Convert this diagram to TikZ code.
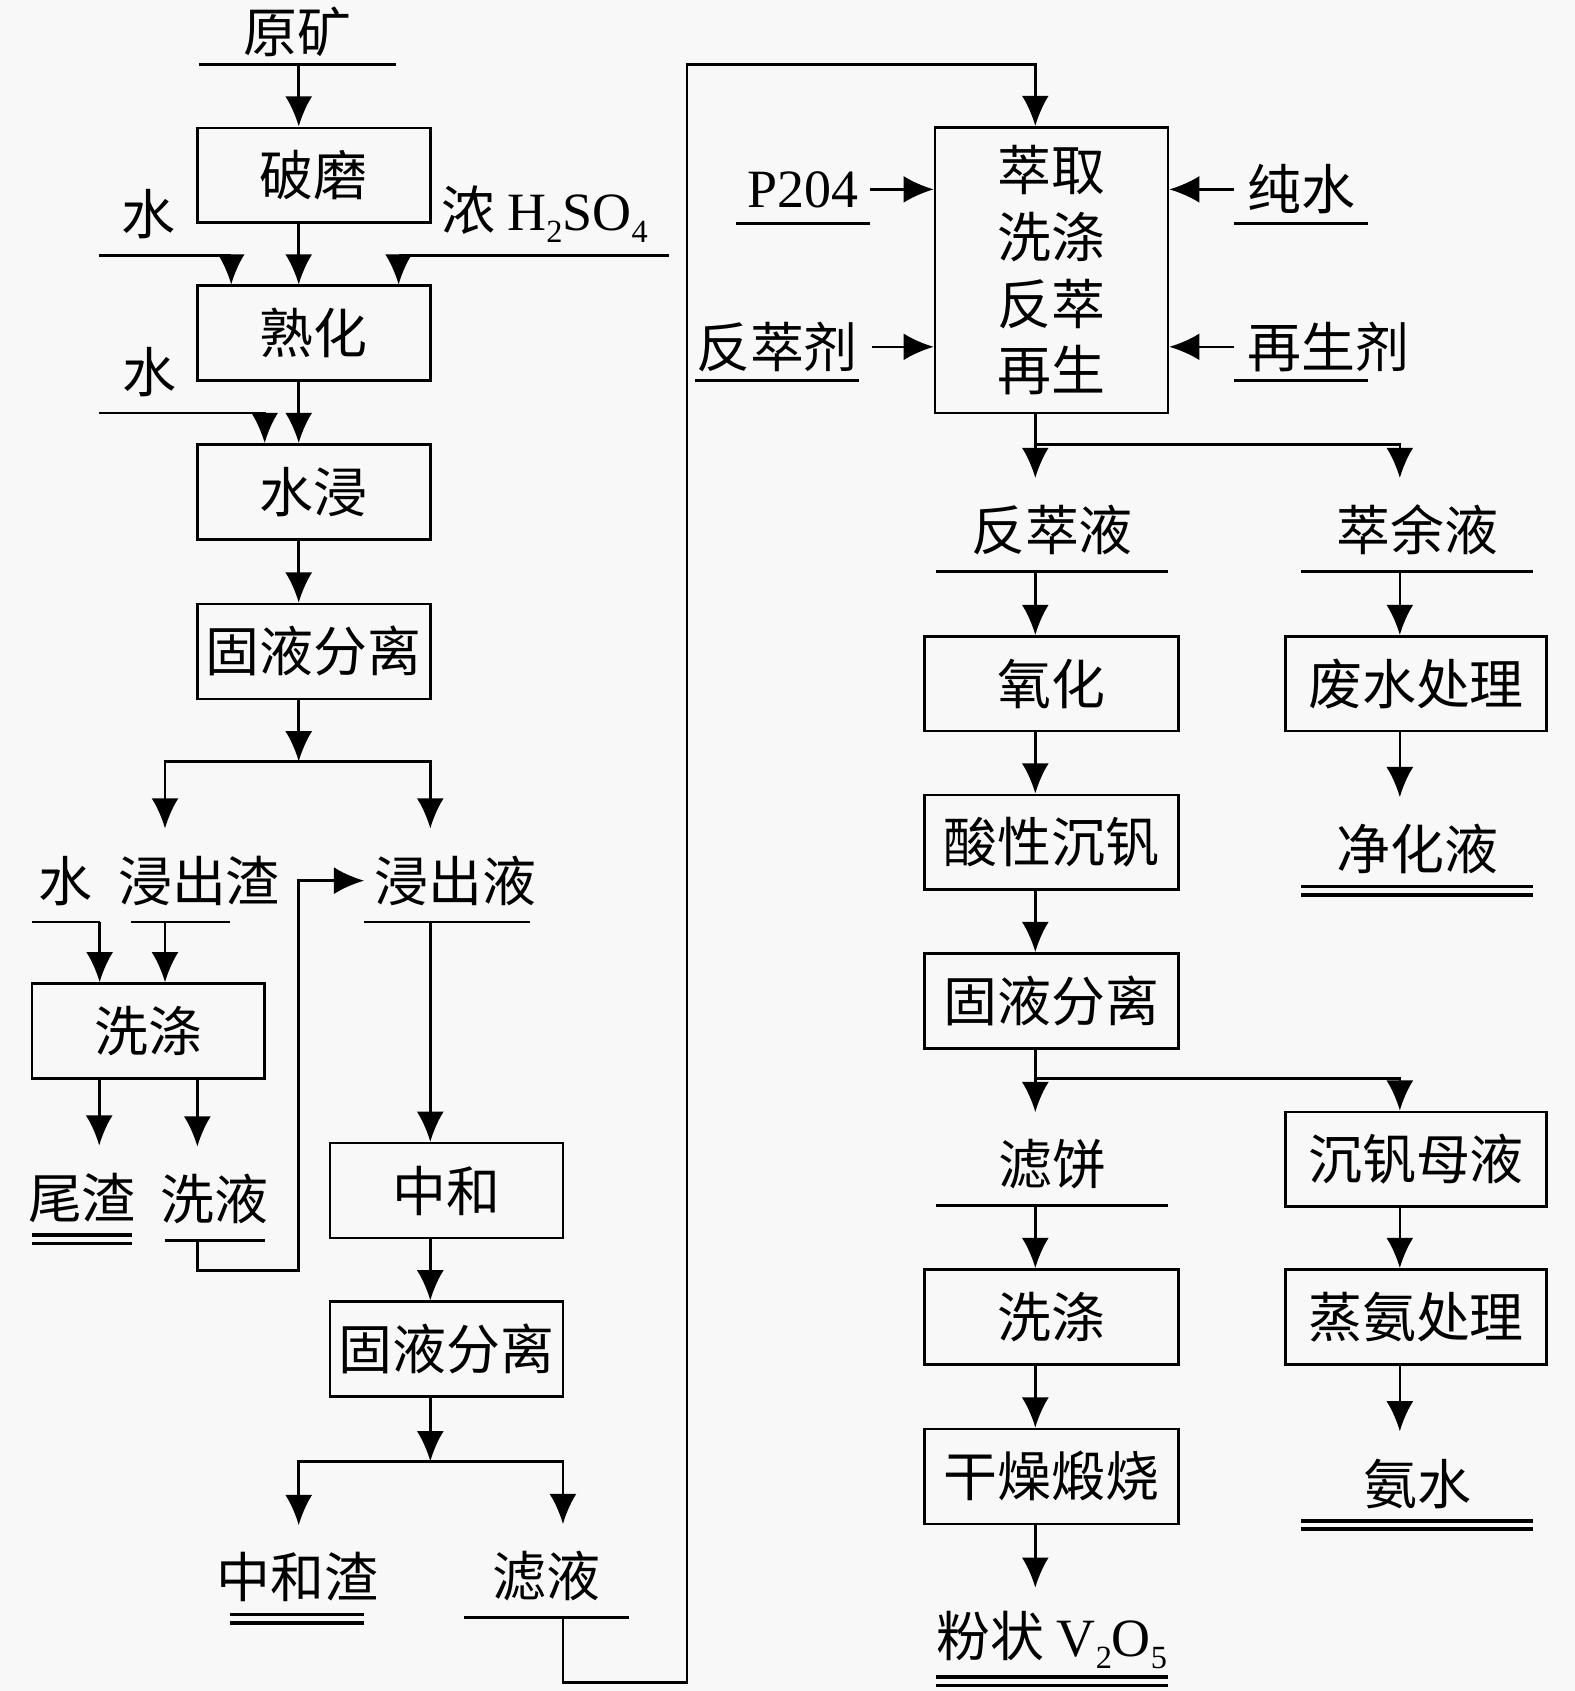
\documentclass[tikz,border=0pt]{standalone}
\usepackage{fontspec}
\setmainfont{Liberation Serif}
\newfontfamily\cjk{Noto Sans CJK SC}
\usetikzlibrary{arrows.meta,calc}
\definecolor{paper}{RGB}{248,248,248}
\newcommand{\lowidx}[1]{\raisebox{-0.22em}{\fontsize{15pt}{15pt}\selectfont #1}}

\begin{document}
\begin{tikzpicture}
  [x=0.5pt, y=-0.5pt,
   every node/.style={font=\cjk\fontsize{25pt}{31pt}\selectfont},
   box/.style={draw, line width=1.2pt, inner sep=0pt, minimum width=108pt, minimum height=44pt},
   strm/.style={inner sep=0pt, minimum height=38pt, anchor=south,
     execute at begin node={\hbox to 0pt\bgroup\hss},
     execute at end node={\hss\egroup}},
   flow/.style={line width=1.2pt, -{Latex[length=14pt,width=12.5pt]}},
   feed/.style={flow, shorten >=5pt},
   uline/.style={line width=1.2pt},
   pline/.style={line width=1.6pt, double=paper, double distance=2.2pt}]
  \fill[paper] (0,0) rectangle (1460,1568);
  \useasboundingbox (0,0) rectangle (1460,1568);
  %Spalten und Verzweigungen
  \coordinate (XA) at (92,0);
  \coordinate (XB) at (153,0);
  \coordinate (XC) at (183,0);
  \coordinate (XD) at (277,0);
  \coordinate (XE) at (399,0);
  \coordinate (XF) at (522,0);
  \coordinate (XH) at (960,0);
  \coordinate (XI) at (1298,0);
  \coordinate (J1) at (277,706);
  \coordinate (J2) at (399,1355);
  \coordinate (J3) at (960,412);
  \coordinate (J4) at (960,1000);
  \coordinate (R1) at (637,1560);
  \coordinate (R2) at (637,60);
  %Aufschluss
  \node [strm, minimum width=91pt, minimum height=30pt] (Ore) at (276,60) {原矿};
  \node [box] (Mill) at (291,162.5) {破磨};
  \node [box] (Cure) at (291,309) {熟化};
  \node [box] (Leach) at (291,456) {水浸};
  \node [box] (Sep1) at (291,604) {固液分离};
  \node [strm, minimum width=61pt] (W1) at (153,237) {水\kern15pt};
  \node [strm, minimum width=125pt] (Acid) at (495,237) {\kern10pt 浓 {\rmfamily H\lowidx{2}SO\lowidx{4}}};
  \node [strm, minimum width=76.5pt] (W2) at (168.5,383) {水\kern30pt};
  %Waesche und Neutralisation
  \node [strm, minimum width=31pt] (W3) at (61,855) {水};
  \node [strm, minimum width=45.5pt] (Slag) at (167.5,855) {\kern17pt 浸出渣};
  \node [box] (Wash1) at (137.5,956) {洗涤};
  \node [strm, minimum width=46pt] (Tail) at (76,1149) {尾渣};
  \node [strm, minimum width=46pt] (WL) at (199,1150) {洗液};
  \node [strm, minimum width=76.5pt] (LL) at (414.5,855) {\kern8pt 浸出液};
  \node [box] (Neut) at (414,1104) {中和};
  \node [box] (Sep2) at (414,1251) {固液分离};
  \node [strm, minimum width=61.5pt] (NRes) at (275.5,1501) {中和渣};
  \node [strm, minimum width=76pt] (Filt) at (507,1500) {滤液};
  %Extraktion
  \node [box, minimum height=132.5pt, align=center] (Ext) at (975,250.5) {萃取\\洗涤\\反萃\\再生};
  \node [strm, minimum width=61.5pt, minimum height=31pt] (P204) at (744.5,207) {\rmfamily P204};
  \node [strm, minimum width=75.5pt, minimum height=31pt] (RA) at (720.5,353) {反萃剂};
  \node [strm, minimum width=61.5pt, minimum height=31pt] (PW) at (1206.5,207) {纯水};
  \node [strm, minimum width=61.5pt, minimum height=31pt] (RG) at (1206.5,353) {\kern25pt 再生剂};
  \node [strm, minimum width=107.5pt] (StripL) at (975.5,530) {反萃液};
  \node [strm, minimum width=107pt] (Raff) at (1314,530) {萃余液};
  %Faellung
  \node [box, minimum width=118pt] (Ox) at (975,634) {氧化};
  \node [box, minimum width=121pt] (WW) at (1313,634) {废水处理};
  \node [box, minimum width=118pt] (Prec) at (975,781) {酸性沉钒};
  \node [strm, minimum width=107pt] (Pur) at (1314,826) {净化液};
  \node [box, minimum width=118pt] (Sep3) at (975,928) {固液分离};
  \node [strm, minimum width=107.5pt] (FC) at (975.5,1118) {滤饼};
  \node [box, minimum width=121pt] (ML) at (1313,1075) {沉钒母液};
  \node [box, minimum width=118pt] (Wash2) at (975,1221) {洗涤};
  \node [box, minimum width=121pt] (Strip) at (1313,1221) {蒸氨处理};
  \node [box, minimum width=118pt] (Dry) at (975,1369) {干燥煅烧};
  \node [strm, minimum width=107pt] (AW) at (1314,1414) {氨水};
  \node [strm, minimum width=107.5pt] (VO) at (975.5,1559) {粉状 {\rmfamily V\lowidx{2}O\lowidx{5}}};
  %Unterstriche
  \foreach \n in {Ore,W3,Slag,WL,LL,Filt,P204,RA,PW,RG,StripL,Raff,FC}
    \draw [uline] (\n.south west) -- (\n.south east);
  \foreach \n in {Tail,NRes,Pur,AW,VO}
    \draw [pline] (\n.south west) -- (\n.south east);
  %Pfeile links
  \draw [flow] (Ore.south -| XD) -- (Mill.north -| XD);
  \draw [flow] (W1.south west) -| (Cure.north -| W1.south east);
  \draw [flow] (Acid.south east) -| (Cure.north -| Acid.south west);
  \draw [flow] (Mill.south -| XD) -- (Cure.north -| XD);
  \draw [flow] (W2.south west) -| (Leach.north -| W2.south east);
  \draw [flow] (Cure.south -| XD) -- (Leach.north -| XD);
  \draw [flow] (Leach.south -| XD) -- (Sep1.north -| XD);
  \draw [flow] (Sep1.south -| XD) -- (J1);
  \draw [feed] (J1) -| (Slag.north -| XB);
  \draw [feed] (J1) -| (LL.north -| XE);
  \draw [flow] (W3.south east) -- (Wash1.north -| W3.south east);
  \draw [flow] (Slag.south -| XB) -- (Wash1.north -| XB);
  \draw [feed] (Wash1.south -| XA) -- (Tail.north -| XA);
  \draw [feed] (Wash1.south -| XC) -- (WL.north -| XC);
  \draw [flow] (WL.south -| XC) -- ++(0,28) -| (XD |- LL.west) -- (LL.west);
  \draw [flow] (LL.south -| XE) -- (Neut.north -| XE);
  \draw [flow] (Neut.south -| XE) -- (Sep2.north -| XE);
  \draw [flow] (Sep2.south -| XE) -- (J2);
  \draw [feed] (J2) -| (NRes.north -| XD);
  \draw [feed] (J2) -| (Filt.north -| XF);
  \draw [flow] (Filt.south -| XF) |- (R1) -- (R2) -| (Ext.north -| XH);
  %Pfeile rechts
  \draw [flow] (P204.east) -- (P204.east -| Ext.west);
  \draw [flow] ([xshift=6pt]RA.east) -- (RA.east -| Ext.west);
  \draw [flow] (PW.west) -- (PW.west -| Ext.east);
  \draw [flow] (RG.west) -- (RG.west -| Ext.east);
  \draw [feed] (Ext.south -| XH) -- (StripL.north -| XH);
  \draw [feed] (J3) -| (Raff.north -| XI);
  \draw [flow] (StripL.south -| XH) -- (Ox.north -| XH);
  \draw [flow] (Raff.south -| XI) -- (WW.north -| XI);
  \draw [feed] (WW.south -| XI) -- (Pur.north -| XI);
  \draw [flow] (Ox.south -| XH) -- (Prec.north -| XH);
  \draw [flow] (Prec.south -| XH) -- (Sep3.north -| XH);
  \draw [feed] (Sep3.south -| XH) -- (FC.north -| XH);
  \draw [flow] (J4) -| (ML.north -| XI);
  \draw [flow] (FC.south -| XH) -- (Wash2.north -| XH);
  \draw [flow] (Wash2.south -| XH) -- (Dry.north -| XH);
  \draw [feed] (Dry.south -| XH) -- (VO.north -| XH);
  \draw [flow] (ML.south -| XI) -- (Strip.north -| XI);
  \draw [feed] (Strip.south -| XI) -- (AW.north -| XI);
\end{tikzpicture}
\end{document}
